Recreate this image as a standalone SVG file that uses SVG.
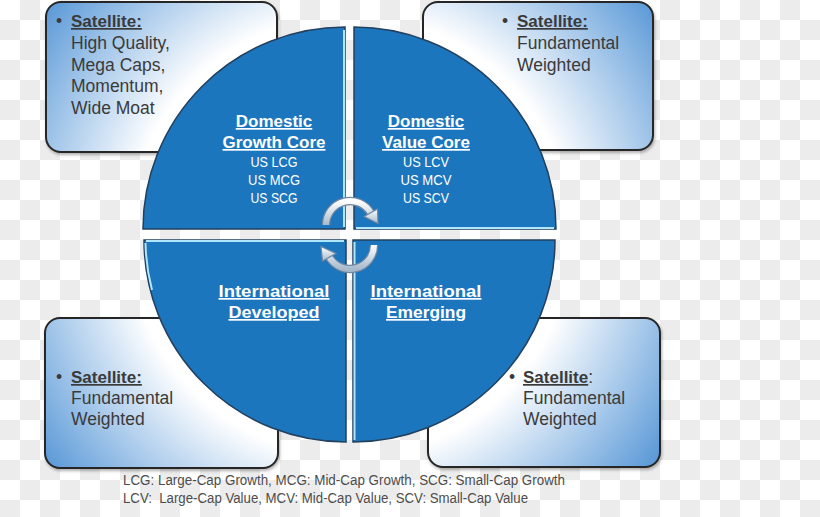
<svg xmlns="http://www.w3.org/2000/svg" width="820" height="517" viewBox="0 0 820 517">
<defs>
<pattern id="cb" width="40" height="40" patternUnits="userSpaceOnUse">
<rect width="40" height="40" fill="#ffffff"/>
<rect x="20" y="0" width="20" height="20" fill="#ececec"/>
<rect x="0" y="20" width="20" height="20" fill="#ececec"/>
</pattern>
<radialGradient id="boxg" gradientUnits="userSpaceOnUse" cx="350" cy="236" r="400">
<stop offset="0" stop-color="#ffffff"/>
<stop offset="0.55" stop-color="#ffffff"/>
<stop offset="0.76" stop-color="#a9caeb"/>
<stop offset="1" stop-color="#468cd2"/>
</radialGradient>
<linearGradient id="arr" x1="0" y1="0" x2="0" y2="1">
<stop offset="0" stop-color="#ffffff"/>
<stop offset="1" stop-color="#a7bacd"/>
</linearGradient>
<filter id="sh" x="-5%" y="-5%" width="110%" height="115%">
<feDropShadow dx="1" dy="2" stdDeviation="1.5" flood-color="#000" flood-opacity="0.3"/>
</filter>
</defs>
<style>
.box{fill:url(#boxg);stroke:#262626;stroke-width:2;filter:url(#sh)}
.bt{font-family:"Liberation Sans",Arial,sans-serif;font-size:17.5px;fill:#3a3a3a}
.bh{font-weight:bold;font-size:17px;text-decoration:underline}
.q{fill:#1b76be;stroke:#23405e;stroke-width:1.5}
.hl{stroke:#aee6fb;stroke-width:2;fill:none}
.qt{font-family:"Liberation Sans",Arial,sans-serif;font-weight:bold;font-size:17px;fill:#ffffff;text-anchor:middle;text-decoration:underline}
.qs{font-family:"Liberation Sans",Arial,sans-serif;font-size:14px;fill:#ffffff;text-anchor:middle}
.ao{fill:none;stroke:#6f87a1;stroke-width:8.5}
.ai{fill:none;stroke:url(#arr);stroke-width:6}
.ah{fill:url(#arr);stroke:#6f87a1;stroke-width:1.2}
.fn{font-family:"Liberation Sans",Arial,sans-serif;font-size:14px;fill:#4d4d4d}
</style>
<rect width="820" height="517" fill="url(#cb)"/>

<g id="box-tl">
<rect class="box" x="46" y="2" width="231" height="150" rx="15"/>
<text class="bt" x="56" y="27">•</text>
<text class="bt bh" x="71" y="27">Satellite:</text>
<text class="bt" x="71" y="49">High Quality,</text>
<text class="bt" x="71" y="71">Mega Caps,</text>
<text class="bt" x="71" y="92">Momentum,</text>
<text class="bt" x="71" y="114">Wide Moat</text>
</g>
<g id="box-tr">
<rect class="box" x="423" y="2" width="230" height="148" rx="15"/>
<text class="bt" x="502" y="27">•</text>
<text class="bt bh" x="517" y="27">Satellite:</text>
<text class="bt" x="517" y="49">Fundamental</text>
<text class="bt" x="517" y="71">Weighted</text>
</g>
<g id="box-bl">
<rect class="box" x="45" y="318" width="233" height="150" rx="15"/>
<text class="bt" x="56" y="383">•</text>
<text class="bt bh" x="71" y="383">Satellite:</text>
<text class="bt" x="71" y="404">Fundamental</text>
<text class="bt" x="71" y="425">Weighted</text>
</g>
<g id="box-br">
<rect class="box" x="428" y="318" width="232" height="149" rx="15"/>
<text class="bt" x="509" y="383">•</text>
<text class="bt" x="523" y="383"><tspan class="bh">Satellite</tspan>:</text>
<text class="bt" x="523" y="404">Fundamental</text>
<text class="bt" x="523" y="425">Weighted</text>
</g>

<g id="q-ul">
<path class="q" d="M345,229 L143,229 A202,202 0 0 1 345,27 Z"/>
<line class="hl" x1="344" y1="30" x2="344" y2="227"/>
<text class="qt" x="274" y="127">Domestic</text>
<text class="qt" x="274" y="148">Growth Core</text>
<text class="qs" x="274" y="167" textLength="47" lengthAdjust="spacingAndGlyphs">US LCG</text>
<text class="qs" x="274" y="185" textLength="52" lengthAdjust="spacingAndGlyphs">US MCG</text>
<text class="qs" x="274" y="203" textLength="47" lengthAdjust="spacingAndGlyphs">US SCG</text>
</g>
<g id="q-ur">
<path class="q" d="M354,229 L354,27 A202,202 0 0 1 556,229 Z"/>
<line class="hl" x1="356" y1="228" x2="554" y2="228"/>
<text class="qt" x="426" y="127">Domestic</text>
<text class="qt" x="426" y="148">Value Core</text>
<text class="qs" x="426" y="167" textLength="46" lengthAdjust="spacingAndGlyphs">US LCV</text>
<text class="qs" x="426" y="185" textLength="51" lengthAdjust="spacingAndGlyphs">US MCV</text>
<text class="qs" x="426" y="203" textLength="46" lengthAdjust="spacingAndGlyphs">US SCV</text>
</g>
<g id="q-ll">
<path class="q" d="M346,240 L346,442 A202,202 0 0 1 144,240 Z"/>
<line class="hl" x1="146" y1="241" x2="344" y2="241"/>
<path class="hl" d="M145.5,243 A200,200 0 0 0 152,290"/>
<text class="qt" x="274" y="297" textLength="111" lengthAdjust="spacingAndGlyphs">International</text>
<text class="qt" x="274" y="318" textLength="91" lengthAdjust="spacingAndGlyphs">Developed</text>
</g>
<g id="q-lr">
<path class="q" d="M353,240 L555,240 A202,202 0 0 1 353,442 Z"/>
<line class="hl" x1="354.5" y1="242" x2="354.5" y2="440"/>
<text class="qt" x="426" y="297" textLength="111" lengthAdjust="spacingAndGlyphs">International</text>
<text class="qt" x="426" y="318" textLength="80" lengthAdjust="spacingAndGlyphs">Emerging</text>
</g>

<g id="connectors">
<path class="ao" d="M326,225 A24,24 0 0 1 370.8,213"/>
<path class="ai" d="M326,225 A24,24 0 0 1 370.8,213"/>
<polygon class="ah" points="378,223.5 377.5,209 364,216.5"/>
<path class="ao" d="M374,245 A24,24 0 0 1 329.2,257"/>
<path class="ai" d="M374,245 A24,24 0 0 1 329.2,257"/>
<polygon class="ah" points="321,246.5 322.5,261 336,253.5"/>
</g>

<g id="footnote">
<text class="fn" x="123" y="485" textLength="442" lengthAdjust="spacingAndGlyphs">LCG: Large-Cap Growth, MCG: Mid-Cap Growth, SCG: Small-Cap Growth</text>
<text class="fn" x="123" y="503" textLength="405" lengthAdjust="spacingAndGlyphs" xml:space="preserve">LCV:  Large-Cap Value, MCV: Mid-Cap Value, SCV: Small-Cap Value</text>
</g>
</svg>
